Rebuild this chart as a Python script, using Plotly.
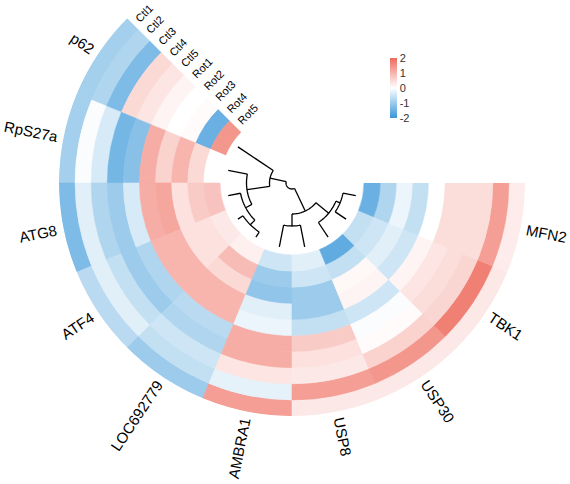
import math
import plotly.graph_objects as go

# ---------------- data ----------------
genes = ["p62", "RpS27a", "ATG8", "ATF4", "LOC692779",
         "AMBRA1", "USP8", "USP30", "TBK1", "MFN2"]
samples = ["Ctl1", "Ctl2", "Ctl3", "Ctl4", "Ctl5",
           "Rot1", "Rot2", "Rot3", "Rot4", "Rot5"]

p62 = [-0.9, -0.8, -1.3, 0.5, 0.35, 0.15, 0.0, 0.05, -1.5, 1.4]
rps27a = [-0.9, -0.05, -0.4, -1.4, -1.2, 1.1, 0.6, 1.0, 0.5, 0.0]
atg8 = [-1.3, -0.3, -0.8, -1.0, -0.4, 1.1, 1.2, 0.4, 0.7, 0.8]
atf4 = [-0.7, -0.3, -0.6, -1.0, -0.8, 1.0, 1.0, 0.4, 0.4, 0.3]
loc692779 = [-1.0, -0.6, -0.5, -0.8, -0.7, 1.0, 1.0, 0.5, 0.9, 0.2]
ambra1 = [1.3, -0.25, 0.35, 1.1, 1.1, -0.2, -0.3, -1.1, -1.0, -0.5]
usp8 = [0.3, 1.3, 0.3, 0.4, 0.7, -0.6, -1.0, -1.0, -0.5, -0.3]
usp30 = [0.3, 1.4, 0.6, 0.05, -0.05, -0.5, 0.15, 0.1, -0.6, -1.6]
tbk1 = [0.3, 1.7, 0.55, 0.45, 0.35, 0.15, -0.5, -0.3, -0.5, -0.6]
mfn2 = [0.25, 1.3, 0.45, 0.45, 0.45, 0.0, -0.6, -0.2, -0.8, -1.5]
values = [p62, rps27a, atg8, atf4, loc692779, ambra1, usp8, usp30, tbk1, mfn2]

# dendrogram merges (leaf indices 0..9, new nodes numbered from 10), height
merge_a = [3, 8, 2, 7, 1, 5, 15, 0, 17]
merge_b = [4, 9, 10, 11, 12, 6, 13, 14, 16]
merge_h = [6, 13, 12.5, 17.5, 19.5, 22, 34, 42.5, 59]

legend_ticks = [-2, -1, 0, 1, 2]
legend_ticktext = ["-2", "-1", "0", "1", "2"]

# ---------------- layout constants ----------------
W, H = 570, 484
CX, CY = 292, 183
R_OUT, R_IN = 233.0, 72.0
START, SPAN = 135.0, 22.5
R_LEAF = 65.0
FONT = "Liberation Sans, Arial, sans-serif"
BLUE = (56, 150, 216)
RED = (238, 106, 92)

ring_w = (R_OUT - R_IN) / len(samples)


def ramp(v):
    t = max(-1.0, min(1.0, v / 2.0))
    c = RED if t >= 0 else BLUE
    a = abs(t)
    r, g, b = [round(255 + (ci - 255) * a) for ci in c]
    return f"rgb({r},{g},{b})"


def rgbstr(c):
    return f"rgb({c[0]},{c[1]},{c[2]})"


colorscale = [[0.0, rgbstr(BLUE)], [0.5, "rgb(255,255,255)"], [1.0, rgbstr(RED)]]

theta, base, rr, col, lcol = [], [], [], [], []
for gi, g in enumerate(genes):
    for si, s in enumerate(samples):
        v = values[gi][si]
        theta.append(START + SPAN * (gi + 0.5))
        base.append(R_OUT - ring_w * (si + 1))
        rr.append(ring_w)
        col.append(v)
        lcol.append(ramp(v))

fig = go.Figure()
fig.add_trace(go.Barpolar(
    r=rr, theta=theta, base=base, width=[SPAN] * len(rr),
    marker=dict(
        color=col, colorscale=colorscale, cmin=-2, cmax=2,
        line=dict(color=lcol, width=0.6),
        colorbar=dict(
            x=390 / W, xanchor="left", xpad=0,
            y=1 - 58 / H, yanchor="top", ypad=0,
            len=60, lenmode="pixels", thickness=7, thicknessmode="pixels",
            tickvals=legend_ticks, ticktext=legend_ticktext, ticks="",
            outlinewidth=0, borderwidth=0,
            tickfont=dict(family=FONT, size=11, color="#333333"),
        ),
    ),
    hoverinfo="skip", showlegend=False,
))

# ---------------- dendrogram ----------------
leaf_ang = [START + SPAN * (i + 0.5) for i in range(len(genes))]
node_ang = list(leaf_ang)
node_r = [R_LEAF] * len(genes)
dr, dt = [], []
for a, b, h in zip(merge_a, merge_b, merge_h):
    rn = R_LEAF - h
    ta, tb = node_ang[a], node_ang[b]
    dr += [node_r[a], rn, None, node_r[b], rn, None]
    dt += [ta, ta, None, tb, tb, None]
    n = max(2, int(abs(tb - ta) / 2) + 2)
    for k in range(n):
        dr.append(rn)
        dt.append(ta + (tb - ta) * k / (n - 1))
    dr.append(None)
    dt.append(None)
    node_ang.append((ta + tb) / 2)
    node_r.append(rn)

fig.add_trace(go.Scatterpolar(
    r=dr, theta=dt, mode="lines",
    line=dict(color="black", width=1.3),
    hoverinfo="skip", showlegend=False, connectgaps=False,
))

# ---------------- labels ----------------
CW = {"p": .556, "6": .556, "2": .556, "R": .722, "S": .667, "7": .556, "a": .556,
      "A": .667, "T": .611, "G": .778, "8": .556, "F": .611, "4": .556, "L": .556,
      "O": .778, "C": .722, "9": .556, "M": .833, "B": .667, "1": .556, "U": .722,
      "P": .667, "3": .556, "0": .556, "K": .667, "N": .722, "t": .278, "l": .222,
      "o": .556, "5": .556}


def tw(s, size):
    return sum(CW.get(c, .556) for c in s) * size


def to_paper(dx, dy):
    return (CX + dx) / W, 1 - (CY - dy) / H


def norm(a):
    while a > 180:
        a -= 360
    while a <= -180:
        a += 360
    return a


annotations = []
GSIZE = 15
for gi, g in enumerate(genes):
    ang = leaf_ang[gi]
    w = tw(g, GSIZE)
    rc = R_OUT + 6 + w / 2
    dx, dy = rc * math.cos(math.radians(ang)), rc * math.sin(math.radians(ang))
    x, y = to_paper(dx, dy)
    read = ang + 180 if 90 < ang < 270 else ang
    annotations.append(dict(
        x=x, y=y, xref="paper", yref="paper", text=g, showarrow=False,
        xanchor="center", yanchor="middle", textangle=norm(-read),
        font=dict(family=FONT, size=GSIZE, color="black"),
    ))

SSIZE = 11
for si, s in enumerate(samples):
    rc = R_OUT - ring_w * (si + 0.5)
    ex, ey = rc * math.cos(math.radians(START)), rc * math.sin(math.radians(START))
    w = tw(s, SSIZE)
    d = 6 + w / 2
    tdir = START - 90
    dx = ex + d * math.cos(math.radians(tdir))
    dy = ey + d * math.sin(math.radians(tdir))
    x, y = to_paper(dx, dy)
    annotations.append(dict(
        x=x, y=y, xref="paper", yref="paper", text=s, showarrow=False,
        xanchor="center", yanchor="middle", textangle=norm(-tdir),
        font=dict(family=FONT, size=SSIZE, color="black"),
    ))

s45 = math.sin(math.radians(START))
fig.update_layout(
    width=W, height=H,
    margin=dict(l=0, r=0, t=0, b=0),
    paper_bgcolor="white", plot_bgcolor="white",
    showlegend=False,
    polar=dict(
        domain=dict(x=[(CX - R_OUT) / W, (CX + R_OUT) / W],
                    y=[1 - (CY + R_OUT) / H, 1 - (CY - R_OUT * s45) / H]),
        sector=[START, 360],
        bgcolor="white",
        bargap=0,
        radialaxis=dict(range=[0, R_OUT], visible=False, showgrid=False),
        angularaxis=dict(visible=False, direction="counterclockwise",
                         rotation=0, showgrid=False),
    ),
    annotations=annotations,
)

# the default page has an 8px body margin; remove it so the figure sits at the window corner
fig.write_html("out.html",
               config={"displayModeBar": False, "staticPlot": True},
               post_script="document.body.style.margin='0';document.body.style.overflow='hidden';")
